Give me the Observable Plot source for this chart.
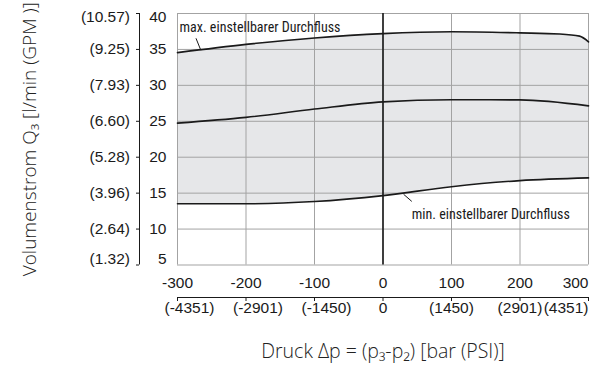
<!DOCTYPE html>
<html>
<head>
<meta charset="utf-8">
<script src="https://cdn.jsdelivr.net/npm/d3@7"></script>
<script src="https://cdn.jsdelivr.net/npm/@observablehq/plot@0.6"></script>
<style>
  html, body { margin: 0; padding: 0; background: #fff; }
</style>
</head>
<body>
<div id="chart"></div>
<script>
// ---- data ----
const pressure = [-300, -200, -100, 0, 100, 200, 258, 287, 300];
const maxFlow  = [34.55, 35.7, 36.6, 37.2, 37.45, 37.3, 37.15, 36.85, 36.05];
const midPressure = [-300, -200, -100, 0, 100, 200, 300];
const midFlow  = [24.75, 25.55, 26.7, 27.7, 28.0, 27.98, 27.15];
const minFlow  = [13.52, 13.52, 13.83, 14.66, 15.9, 16.74, 17.12];

const xTicks = [-300, -200, -100, 0, 100, 200, 300];
const psiLabels = ["(-4351)", "(-2901)", "(-1450)", "0", "(1450)", "(2901)", "(4351)"];
const yTicks = [5, 10, 15, 20, 25, 30, 35, 40];
const gpmLabels = ["(1.32)", "(2.64)", "(3.96)", "(5.28)", "(6.60)", "(7.93)", "(9.25)", "(10.57)"];

const maxLabel = "max. einstellbarer Durchfluss";
const minLabel = "min. einstellbarer Durchfluss";
const xTitle = "Druck Δp = (p₃-p₂) [bar (PSI)]";
const yTitle = "Volumenstrom Q₃ [l/min (GPM )]";

// tables built from the arrays
const maxRows = pressure.map((p, i) => ({p, v: maxFlow[i]}));
const midRows = midPressure.map((p, i) => ({p, v: midFlow[i]}));
const minRows = midPressure.map((p, i) => ({p, v: minFlow[i]}));
const minAt = d3.scaleLinear().domain(midPressure).range(minFlow);
const areaRows = pressure.map((p, i) => ({p, lo: minAt(p), hi: maxFlow[i]}));
const yRows = yTicks.map((v, i) => ({v, bar: String(v), gpm: gpmLabels[i]}));
const inner = yRows.slice(1, -1), bottomRow = yRows.slice(0, 1), topRow = yRows.slice(-1);

const narrow = "'Roboto Condensed', 'Liberation Sans Narrow', sans-serif";
const sans = "'Liberation Sans', Arial, sans-serif";
const light = "'Open Sans', 'Noto Sans', sans-serif";
const gridColor = "#a3a3a3";
const ink = "#1a1a1a";
const FS = 15.5;

function yLabelMarks(rows, dy) {
  return [
    Plot.text(rows, {y: "v", text: "bar", frameAnchor: "left", dx: -11, dy, textAnchor: "end", lineAnchor: "middle", fontSize: FS, fill: ink}),
    Plot.text(rows, {y: "v", text: "gpm", frameAnchor: "left", dx: -47.5, dy, textAnchor: "end", lineAnchor: "middle", fontSize: FS, fill: ink})
  ];
}

const chart = Plot.plot({
  width: 598,
  height: 376,
  marginLeft: 177,
  marginRight: 10,
  marginTop: 13,
  marginBottom: 111.5,
  style: {fontFamily: sans, fontSize: "15px", background: "#fff", color: ink},
  x: {domain: [-300, 300], axis: null},
  y: {domain: [5, 40], axis: null},
  marks: [
    Plot.areaY(areaRows, {x: "p", y1: "lo", y2: "hi", fill: "#e6e7e9", curve: "monotone-x"}),
    Plot.ruleX(xTicks, {stroke: gridColor, strokeWidth: 1}),
    Plot.ruleY(yTicks, {stroke: gridColor, strokeWidth: 1}),
    Plot.ruleX([0], {stroke: ink, strokeWidth: 1.6}),
    Plot.line(maxRows, {x: "p", y: "v", stroke: ink, strokeWidth: 1.6, curve: "monotone-x"}),
    Plot.line(midRows, {x: "p", y: "v", stroke: ink, strokeWidth: 1.6, curve: "monotone-x"}),
    Plot.line(minRows, {x: "p", y: "v", stroke: ink, strokeWidth: 1.6, curve: "monotone-x"}),
    // annotations
    Plot.text([maxLabel], {x: -297, y: 38.1, text: d => d, textAnchor: "start", fontFamily: narrow, fontSize: 14, fill: ink}),
    Plot.link([0], {x1: -273, y1: 36.55, x2: -266, y2: 34.9, stroke: ink, strokeWidth: 1}),
    Plot.text([minLabel], {x: 42, y: 12.0, text: d => d, textAnchor: "start", fontFamily: narrow, fontSize: 14, fill: ink}),
    Plot.link([0], {x1: 30, y1: 14.85, x2: 42, y2: 13.85, stroke: ink, strokeWidth: 1}),
    // y labels: l/min and GPM (end labels nudged inward as in the original)
    ...yLabelMarks(inner, 0),
    ...yLabelMarks(topRow, 4),
    ...yLabelMarks(bottomRow, -6),
    // secondary y axis bracket (GPM)
    Plot.ruleX([-300], {y1: 5, y2: 40, dx: -38, stroke: ink, strokeWidth: 1}),
    Plot.axisY(yTicks, {anchor: "left", tickSize: 3, dx: -38, stroke: ink, tickFormat: () => "", label: null}),
    // x labels (bar)
    Plot.text(xTicks.slice(0, -1), {x: d => d, text: d => String(d), frameAnchor: "bottom", dy: 18, lineAnchor: "middle", fontSize: FS, fill: ink}),
    Plot.text(xTicks.slice(-1), {x: d => d, text: d => String(d), frameAnchor: "bottom", dy: 18, lineAnchor: "middle", textAnchor: "end", fontSize: FS, fill: ink}),
    // secondary x axis (PSI)
    Plot.ruleY([5], {x1: -300, x2: 300, dy: 32.5, stroke: ink, strokeWidth: 1}),
    Plot.axisX(xTicks, {anchor: "bottom", tickSize: 4, dy: 32.5, stroke: ink, tickFormat: () => "", label: null}),
    Plot.text(xTicks.slice(0, 3), {x: d => d, text: d => psiLabels[xTicks.indexOf(d)], frameAnchor: "bottom", dy: 43, dx: 12, lineAnchor: "middle", fontSize: FS, fill: ink}),
    Plot.text(xTicks.slice(3, 6), {x: d => d, text: d => psiLabels[xTicks.indexOf(d)], frameAnchor: "bottom", dy: 43, lineAnchor: "middle", fontSize: FS, fill: ink}),
    Plot.text(xTicks.slice(6), {x: d => d, text: d => psiLabels[xTicks.indexOf(d)], frameAnchor: "bottom", dy: 43, lineAnchor: "middle", textAnchor: "end", fontSize: FS, fill: ink}),
    // titles
    Plot.text([xTitle], {text: d => d, frameAnchor: "bottom", dy: 87, lineAnchor: "middle", textAnchor: "middle", fontSize: 19.5, fontFamily: light, fontWeight: 300, fill: "#222"}),
    Plot.text([yTitle], {text: d => d, frameAnchor: "left", dx: -148, rotate: -90, lineAnchor: "middle", textAnchor: "middle", fontSize: 19, fontFamily: light, fontWeight: 300, fill: "#222"})
  ]
});
document.getElementById("chart").appendChild(chart);
</script>
</body>
</html>
